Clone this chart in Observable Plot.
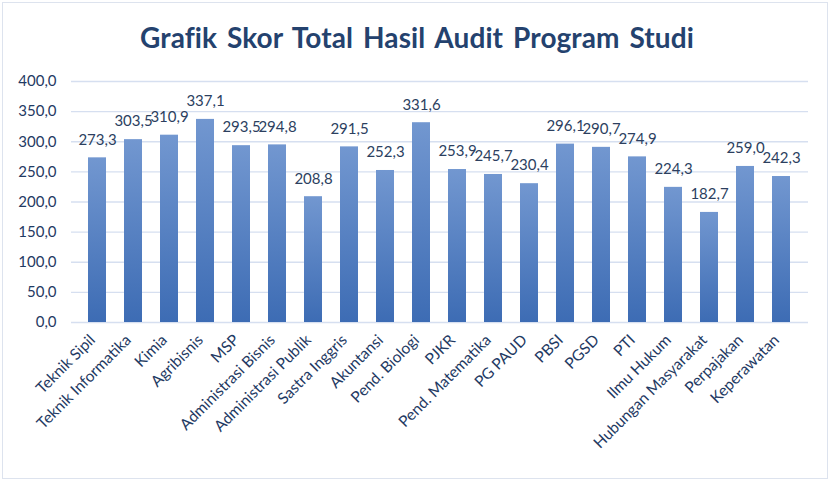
<!DOCTYPE html>
<html>
<head>
<meta charset="utf-8">
<script src="https://cdn.jsdelivr.net/npm/d3@7"></script>
<script src="https://cdn.jsdelivr.net/npm/@observablehq/plot@0.6"></script>
<style>
  html, body { margin: 0; padding: 0; background: #fff; }
  #wrap { position: relative; width: 834px; height: 484px; overflow: hidden; background: #fff; }
  #frame { position: absolute; left: 2px; top: 2px; width: 826px; height: 477px; border: 1.5px solid #dde3ee; box-sizing: border-box; pointer-events: none; }
  #title { position: absolute; left: 0; top: 2px; width: 834px; height: 70px; text-align: center;
    font-family: Lato, "Open Sans", sans-serif; font-weight: 700; font-size: 28px; color: #24426e; line-height: 70px; letter-spacing: 0.1px; word-spacing: 3px; }
  #chart { position: absolute; left: 0; top: 70px; }
</style>
</head>
<body>
<div id="wrap">
  <div id="title">Grafik Skor Total Hasil Audit Program Studi</div>
  <div id="chart"></div>
  <div id="frame"></div>
</div>
<script>
const programs = ["Teknik Sipil","Teknik Informatika","Kimia","Agribisnis","MSP","Administrasi Bisnis","Administrasi Publik","Sastra Inggris","Akuntansi","Pend. Biologi","PJKR","Pend. Matematika","PG PAUD","PBSI","PGSD","PTI","Ilmu Hukum","Hubungan Masyarakat","Perpajakan","Keperawatan"];
const scores = [273.3,303.5,310.9,337.1,293.5,294.8,208.8,291.5,252.3,331.6,253.9,245.7,230.4,296.1,290.7,274.9,224.3,182.7,259.0,242.3];
const yTicks = [0,50,100,150,200,250,300,350,400];

const data = programs.map((p, i) => ({program: p, score: scores[i]}));
const fmt = v => v.toFixed(1).replace(".", ",");
const navy = "#1f3a63";

const chart = Plot.plot({
  width: 834,
  height: 414,
  marginTop: 11,
  marginBottom: 162,
  marginLeft: 71,
  marginRight: 26,
  style: {fontFamily: "Lato, 'Open Sans', sans-serif", fontSize: "15px", color: navy, background: "transparent"},
  x: {domain: programs, paddingInner: 0.49, paddingOuter: 0.25, label: null},
  y: {domain: [0, 400], ticks: yTicks, label: null, tickFormat: fmt},
  marks: [
    Plot.gridY(yTicks, {stroke: "#d6dff0", strokeOpacity: 1, strokeWidth: 1.3}),
    Plot.barY(data, {x: "program", y: "score", fill: "url(#barGrad)"}),
    Plot.text(data, {x: "program", y: "score", text: d => fmt(d.score), dy: -18, fill: "#2c3f5f", fontSize: 15}),
    Plot.axisY({ticks: yTicks, tickFormat: fmt, tickSize: 0, tickPadding: 15, fontSize: 15, fill: navy}),
    Plot.axisX({tickRotate: -45, tickSize: 0, tickPadding: 15, dx: -5, fontSize: 15.5, fill: navy})
  ]
});

const svg = d3.select(chart);
const defs = svg.insert("defs", ":first-child");
const g = defs.append("linearGradient").attr("id", "barGrad").attr("x1", 0).attr("y1", 0).attr("x2", 0).attr("y2", 1);
g.append("stop").attr("offset", "0%").attr("stop-color", "#7297d0");
g.append("stop").attr("offset", "100%").attr("stop-color", "#3d6cb4");

document.getElementById("chart").appendChild(chart);
</script>
</body>
</html>
